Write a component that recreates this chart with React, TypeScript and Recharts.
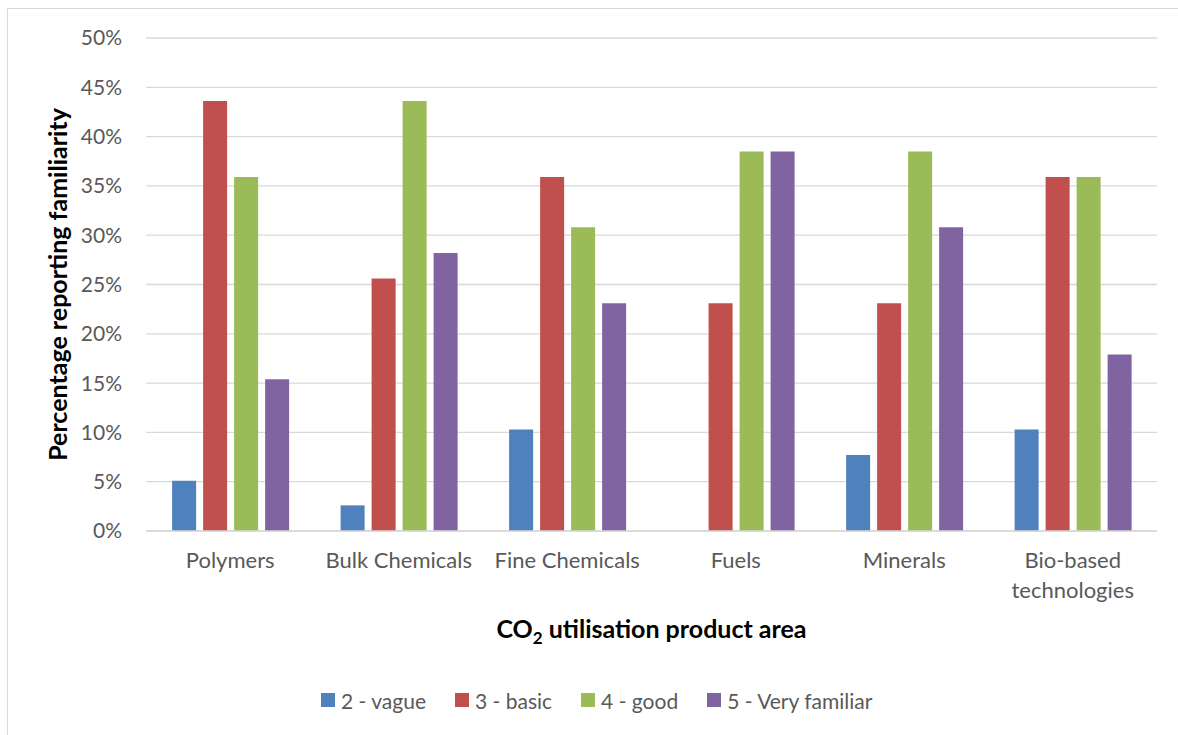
import React from 'react';
import { BarChart, Bar, XAxis, YAxis, CartesianGrid, Legend, Label } from 'recharts';

const categories = ['Polymers', 'Bulk Chemicals', 'Fine Chemicals', 'Fuels', 'Minerals', 'Bio-based technologies'];
const vague = [5.1, 2.6, 10.3, 0, 7.7, 10.3];
const basic = [43.6, 25.6, 35.9, 23.1, 23.1, 35.9];
const good = [35.9, 43.6, 30.8, 38.5, 38.5, 35.9];
const veryFamiliar = [15.4, 28.2, 23.1, 38.5, 30.8, 17.9];
const yTicks = [0, 5, 10, 15, 20, 25, 30, 35, 40, 45, 50];
const seriesNames = ['2 - vague', '3 - basic', '4 - good', '5 - Very familiar'];
const seriesKeys = ['vague', 'basic', 'good', 'veryFamiliar'];
const colors = ['#4F81BD', '#C0504D', '#9BBB59', '#8064A2'];

const data = categories.map((c, i) => ({
  name: c,
  vague: vague[i],
  basic: basic[i],
  good: good[i],
  veryFamiliar: veryFamiliar[i],
}));

const FONT = 'Lato, "Open Sans", sans-serif';

// wrap labels longer than this many characters at word boundaries
const MAX_LINE_CHARS = 16;
const wrapLabel = (s: string): string[] => {
  const words = s.split(' ');
  const lines: string[] = [];
  let cur = '';
  words.forEach((w) => {
    const next = cur ? cur + ' ' + w : w;
    if (next.length > MAX_LINE_CHARS && cur) {
      lines.push(cur);
      cur = w;
    } else {
      cur = next;
    }
  });
  if (cur) lines.push(cur);
  return lines;
};

const XTick = (props: any) => {
  const { x, y, payload } = props;
  const lines = wrapLabel(String(payload.value));
  return (
    <text x={x} y={y} textAnchor="middle" fill="#595959" fontSize={22} fontFamily={FONT}>
      {lines.map((l, i) => (
        <tspan key={i} x={x} dy={i === 0 ? '0.71em' : 30}>
          {l}
        </tspan>
      ))}
    </text>
  );
};

const LegendContent = () => (
  <div style={{ height: 40, display: 'flex', alignItems: 'center', paddingLeft: 321, fontFamily: FONT, fontSize: 21, color: '#595959' }}>
    {seriesNames.map((n, i) => (
      <div key={n} style={{ display: 'flex', alignItems: 'center', marginRight: 29 }}>
        <span style={{ display: 'inline-block', width: 14, height: 14, background: colors[i], marginRight: 6 }} />
        <span style={{ whiteSpace: 'nowrap' }}>{n}</span>
      </div>
    ))}
  </div>
);

export default function App() {
  return (
    <div style={{ position: 'absolute', left: 0, top: 0, width: 1178, height: 735, overflow: 'hidden', background: '#fff' }}>
      <div style={{ position: 'absolute', left: 7, top: 8, width: 1200, height: 760, borderLeft: '1px solid #d9d9d9', borderTop: '1px solid #d9d9d9' }} />
      <div style={{ position: 'absolute', left: 0, top: 0 }}>
        <BarChart
          width={1178}
          height={735}
          data={data}
          margin={{ top: 38, right: 21, left: 0, bottom: 15 }}
          barGap={7}
          barCategoryGap="15.5%"
        >
          <CartesianGrid vertical={false} stroke="#d9d9d9" strokeWidth={1.3} />
          <XAxis
            dataKey="name"
            height={149}
            tickLine={false}
            tickSize={0}
            tickMargin={21}
            axisLine={{ stroke: '#d9d9d9', strokeWidth: 1.5 }}
            tick={<XTick />}
            interval={0}
          >
            <Label
              content={(p: any) => {
                const vb = p.viewBox;
                return (
                  <text x={vb.x + vb.width / 2} y={vb.y + 107} textAnchor="middle" fontFamily={FONT} fontWeight="bold" fontSize={25} fill="#000">
                    CO<tspan fontSize={17} dy={6}>2</tspan>
                    <tspan dy={-6}> utilisation product area</tspan>
                  </text>
                );
              }}
            />
          </XAxis>
          <YAxis
            width={146}
            domain={[0, 50]}
            ticks={yTicks}
            tickFormatter={(v: number) => `${v}%`}
            axisLine={false}
            tickLine={false}
            tickSize={0}
            tickMargin={24}
            tick={{ fill: '#595959', fontSize: 21, fontFamily: FONT }}
          >
            <Label
              content={(p: any) => {
                const vb = p.viewBox;
                const cx = 57;
                const cy = vb.y + vb.height / 2;
                return (
                  <text x={cx} y={cy} transform={`rotate(-90 ${cx} ${cy})`} textAnchor="middle" dominantBaseline="central" fontFamily={FONT} fontWeight="bold" fontSize={25} fill="#000">
                    Percentage reporting familiarity
                  </text>
                );
              }}
            />
          </YAxis>
          <Legend verticalAlign="bottom" content={<LegendContent />} wrapperStyle={{ left: 0, width: 1178 }} />
          {seriesKeys.map((k, i) => (
            <Bar key={k} dataKey={k} name={seriesNames[i]} fill={colors[i]} isAnimationActive={false} />
          ))}
        </BarChart>
      </div>
    </div>
  );
}
